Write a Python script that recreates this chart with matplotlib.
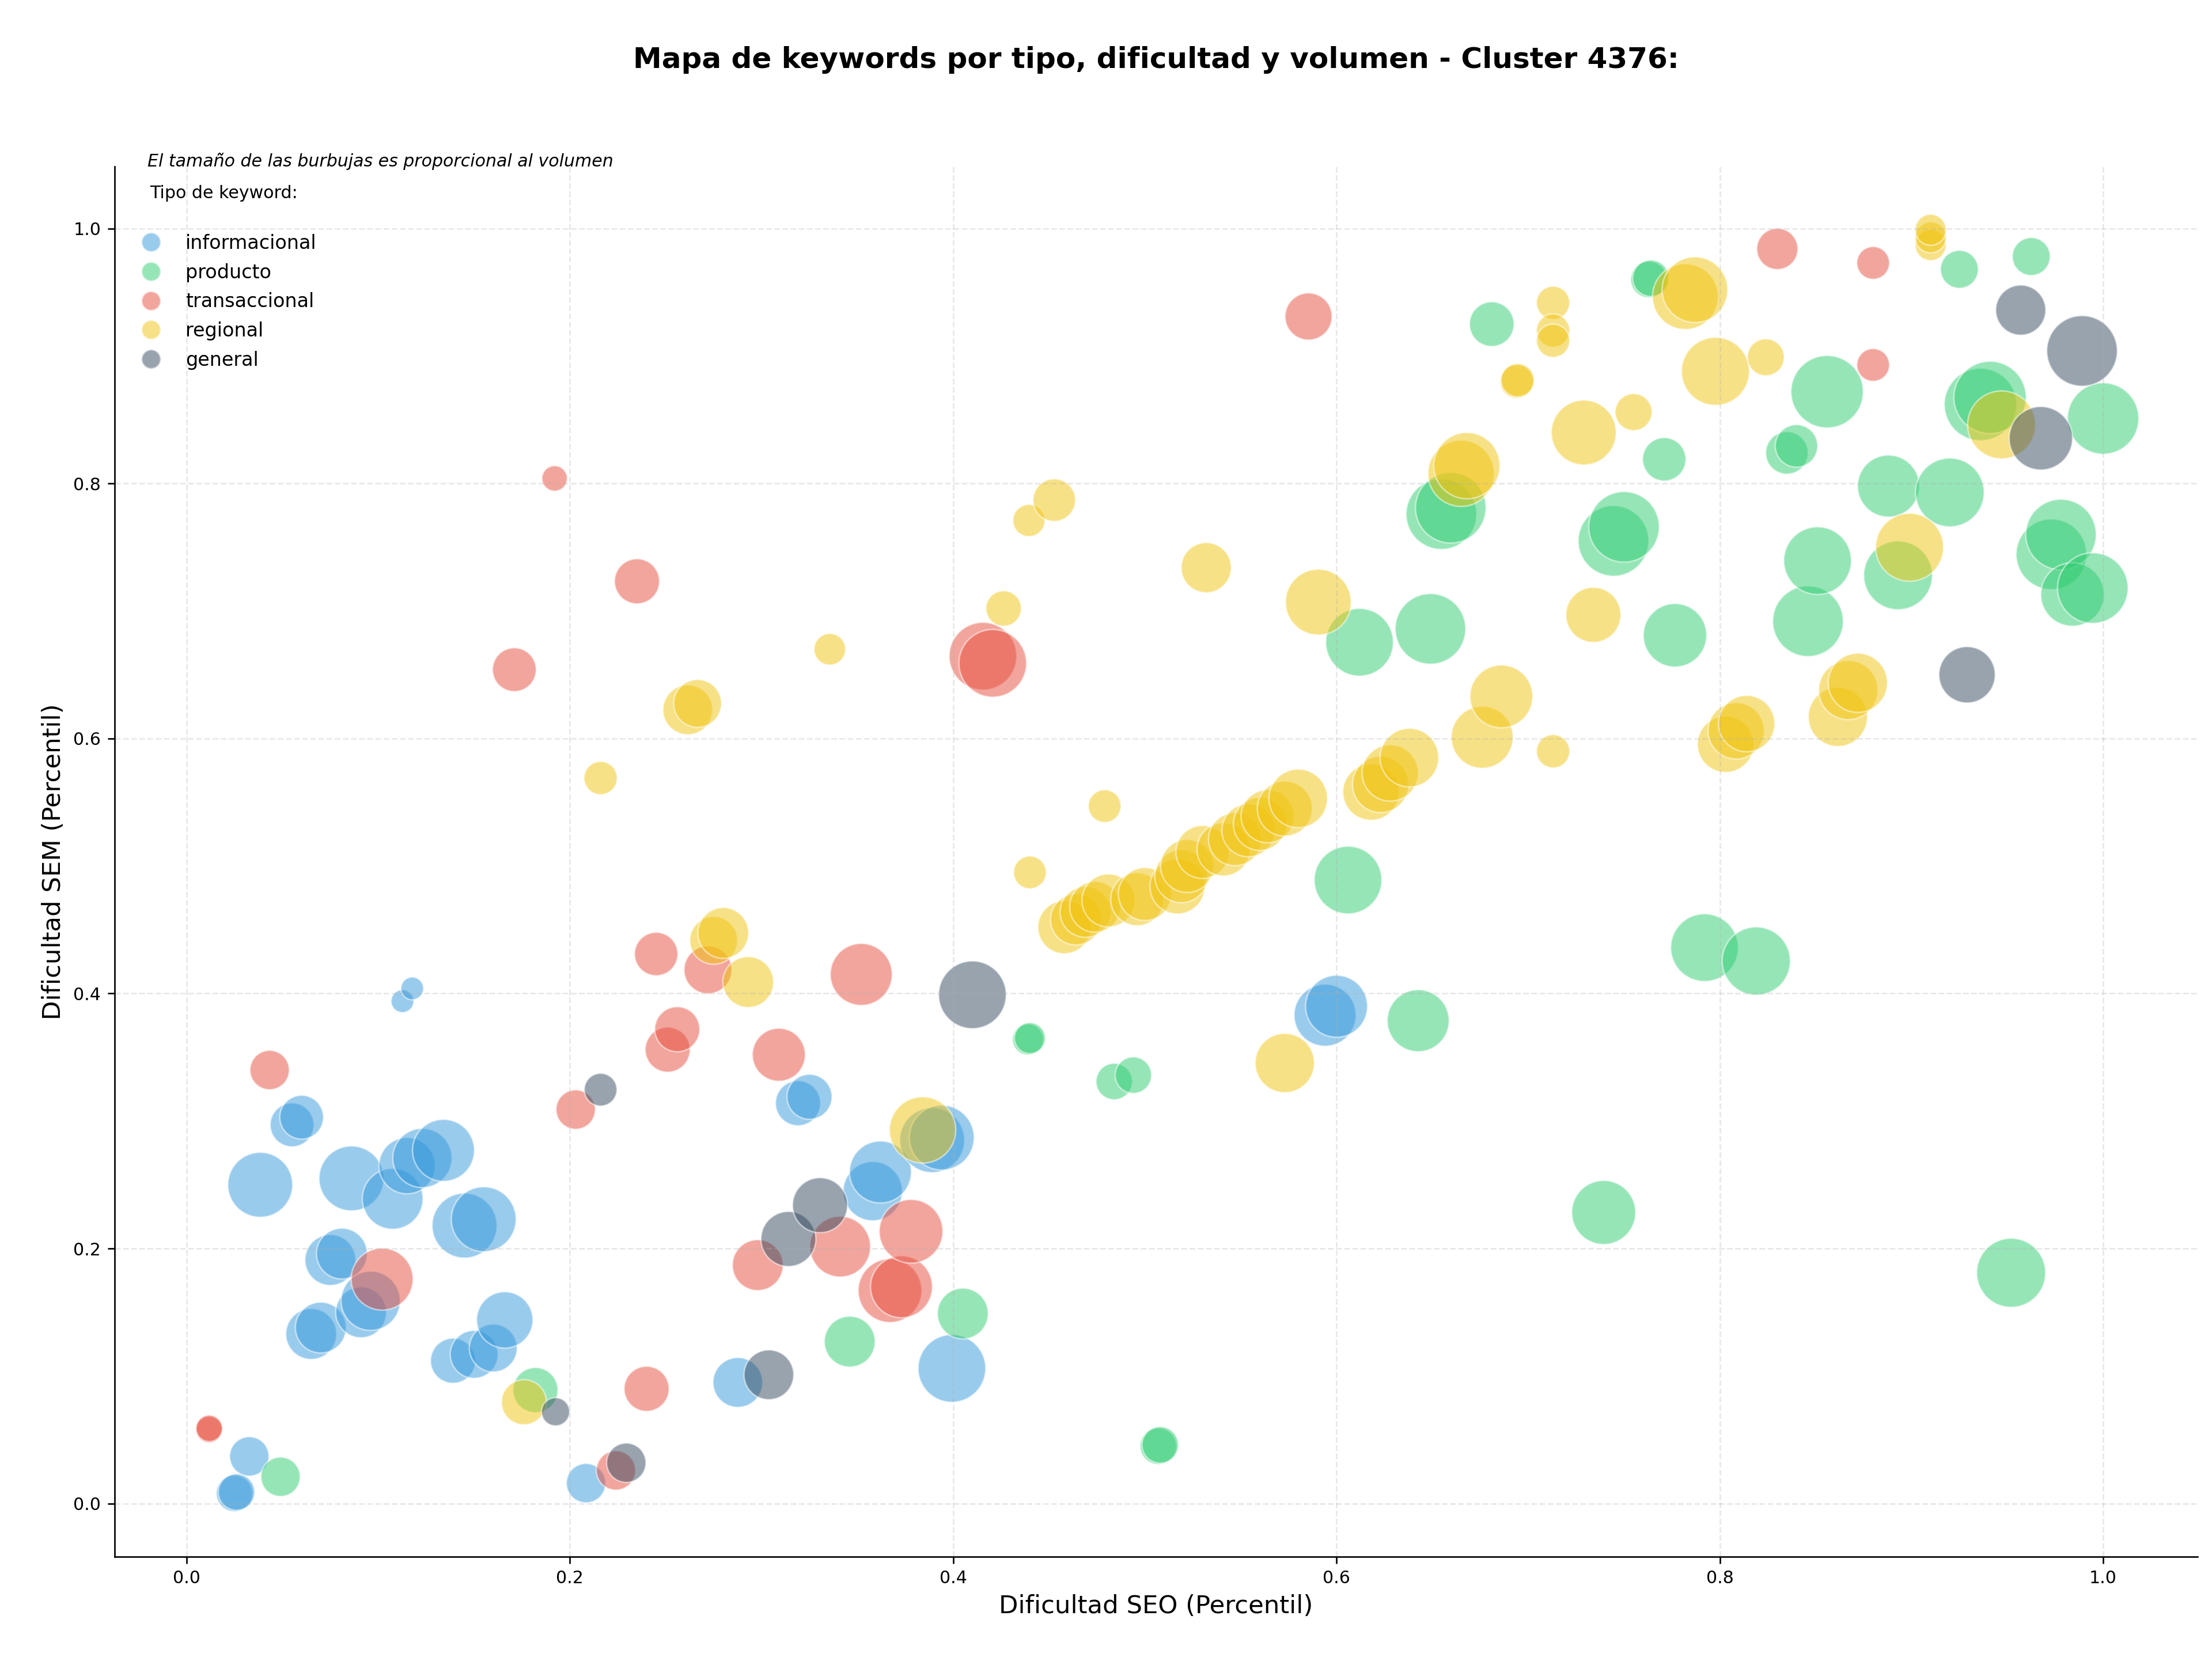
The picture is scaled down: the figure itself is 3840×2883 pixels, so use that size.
import numpy as np
import matplotlib.pyplot as plt
from matplotlib.lines import Line2D

# Dificultad SEO (x), dificultad SEM (y) y volumen relativo de cada keyword, por tipo
info_seo = [0.025, 0.026, 0.0327, 0.0384, 0.055, 0.060, 0.065, 0.070, 0.075, 0.081,
            0.086, 0.091, 0.096, 0.1075, 0.1126, 0.1177, 0.115, 0.123, 0.134, 0.139,
            0.150, 0.160, 0.145, 0.155, 0.166, 0.2084, 0.2876, 0.319, 0.325, 0.358,
            0.362, 0.389, 0.394, 0.3993, 0.594, 0.600]
info_sem = [0.008, 0.009, 0.037, 0.250, 0.297, 0.303, 0.133, 0.138, 0.191, 0.196,
            0.255, 0.150, 0.159, 0.239, 0.394, 0.404, 0.265, 0.271, 0.277, 0.112,
            0.117, 0.122, 0.218, 0.223, 0.144, 0.016, 0.095, 0.314, 0.319, 0.245,
            0.260, 0.285, 0.287, 0.106, 0.383, 0.390]
info_vol = [360, 360, 420, 1140, 520, 520, 700, 700, 700, 700,
            1140, 700, 950, 1000, 140, 140, 860, 950, 1040, 550,
            620, 620, 1140, 1140, 860, 420, 670, 550, 550, 950,
            1040, 1140, 1140, 1240, 1040, 1040]

prod_seo = [0.049, 0.182, 0.346, 0.405, 0.439, 0.440, 0.484, 0.494, 0.507, 0.508,
            0.606, 0.612, 0.6426, 0.649, 0.6547, 0.6596, 0.681, 0.7394, 0.7445, 0.750,
            0.763, 0.764, 0.771, 0.7766, 0.792, 0.819, 0.835, 0.840, 0.846, 0.851,
            0.856, 0.888, 0.893, 0.920, 0.925, 0.936, 0.941, 0.952, 0.9625, 0.973,
            0.978, 0.984, 0.9946, 1.0]
prod_sem = [0.021, 0.089, 0.127, 0.149, 0.364, 0.365, 0.331, 0.336, 0.045, 0.046,
            0.489, 0.6755, 0.3787, 0.686, 0.776, 0.781, 0.925, 0.2283, 0.755, 0.766,
            0.960, 0.961, 0.819, 0.681, 0.436, 0.4255, 0.824, 0.8295, 0.692, 0.7395,
            0.872, 0.798, 0.728, 0.793, 0.968, 0.862, 0.8675, 0.181, 0.978, 0.7445,
            0.760, 0.713, 0.718, 0.851]
prod_vol = [420, 550, 700, 700, 260, 260, 360, 360, 360, 360,
            1240, 1240, 1040, 1350, 1350, 1350, 540, 1110, 1350, 1350,
            360, 360, 510, 1090, 1240, 1260, 490, 490, 1350, 1240,
            1420, 1040, 1280, 1280, 390, 1420, 1420, 1290, 390, 1350,
            1350, 1090, 1350, 1380]

trans_seo = [0.0117, 0.0118, 0.0433, 0.102, 0.171, 0.192, 0.203, 0.224, 0.235, 0.240,
             0.245, 0.251, 0.256, 0.272, 0.298, 0.309, 0.341, 0.352, 0.367, 0.373,
             0.378, 0.4155, 0.4206, 0.5854, 0.830, 0.880, 0.880]
trans_sem = [0.058, 0.059, 0.340, 0.176, 0.654, 0.804, 0.309, 0.026, 0.7233, 0.090,
             0.431, 0.356, 0.372, 0.4186, 0.187, 0.352, 0.2015, 0.415, 0.167, 0.170,
             0.2135, 0.6646, 0.659, 0.931, 0.984, 0.973, 0.893]
trans_vol = [190, 190, 420, 1040, 520, 175, 420, 420, 550, 550,
             510, 550, 550, 620, 700, 760, 1000, 1040, 1100, 1040,
             1100, 1240, 1240, 600, 460, 290, 290]

reg_seo = [0.176, 0.216, 0.2615, 0.2666, 0.275, 0.280, 0.293, 0.3356, 0.384, 0.4263,
           0.4395, 0.4527, 0.440, 0.479,
           0.458, 0.464, 0.469, 0.474, 0.481, 0.496, 0.500, 0.517, 0.519, 0.522,
           0.530, 0.541, 0.547, 0.554, 0.560, 0.564, 0.573, 0.580,
           0.618, 0.623, 0.628, 0.638, 0.676, 0.686,
           0.532, 0.5905, 0.573, 0.665, 0.668, 0.694, 0.6945, 0.713, 0.713, 0.713,
           0.713, 0.729, 0.734, 0.755, 0.782, 0.787, 0.7977, 0.803, 0.8085, 0.814,
           0.824, 0.8616, 0.867, 0.872, 0.899, 0.910, 0.910, 0.910, 0.947]
reg_sem = [0.0795, 0.569, 0.6225, 0.6275, 0.4417, 0.4475, 0.409, 0.670, 0.293, 0.702,
           0.771, 0.787, 0.495, 0.547,
           0.452, 0.458, 0.464, 0.468, 0.473, 0.474, 0.478, 0.484, 0.492, 0.500,
           0.511, 0.513, 0.521, 0.528, 0.533, 0.539, 0.545, 0.553,
           0.558, 0.564, 0.573, 0.585, 0.601, 0.633,
           0.734, 0.707, 0.3455, 0.808, 0.814, 0.880, 0.881, 0.9417, 0.920, 0.912,
           0.590, 0.840, 0.697, 0.856, 0.9466, 0.952, 0.888, 0.5955, 0.606, 0.6117,
           0.899, 0.617, 0.638, 0.6437, 0.750, 0.987, 0.993, 0.999, 0.846]
reg_vol = [550, 300, 670, 620, 620, 700, 700, 270, 1190, 340,
           280, 490, 290, 290,
           760, 700, 700, 700, 760, 760, 760, 820, 760, 760,
           760, 760, 760, 760, 760, 760, 820, 930,
           860, 860, 860, 930, 1040, 1070,
           680, 1170, 950, 1190, 1190, 300, 300, 300, 300, 300,
           300, 1140, 820, 370, 1170, 1170, 1250, 860, 860, 860,
           370, 950, 950, 950, 1250, 260, 260, 260, 1250]

gen_seo = [0.1925, 0.216, 0.2294, 0.3038, 0.314, 0.3305, 0.410, 0.929, 0.957, 0.9675, 0.989]
gen_sem = [0.072, 0.3246, 0.032, 0.101, 0.2075, 0.234, 0.399, 0.650, 0.936, 0.8355, 0.904]
gen_vol = [215, 290, 420, 670, 820, 820, 1240, 860, 680, 1090, 1350]

tipos = ['informacional', 'producto', 'transaccional', 'regional', 'general']
colores = ['#3498db', '#2ecc71', '#e74c3c', '#f1c40f', '#34495e']
series = [(info_seo, info_sem, info_vol),
          (prod_seo, prod_sem, prod_vol),
          (trans_seo, trans_sem, trans_vol),
          (reg_seo, reg_sem, reg_vol),
          (gen_seo, gen_sem, gen_vol)]

fig = plt.figure(figsize=(16, 12.0125), dpi=240)
ax = fig.add_axes([0.0517, 0.0629, 0.9419, 0.8368])

for (xs, ys, vs), tipo, col in zip(series, tipos, colores):
    ax.scatter(xs, ys, s=np.array(vs), c=col, alpha=0.5,
               edgecolors='white', linewidths=0.8, label=tipo)

ax.grid(True, linestyle='--', alpha=0.3)
ax.spines['top'].set_visible(False)
ax.spines['right'].set_visible(False)
ax.set_xlabel('Dificultad SEO (Percentil)', fontsize=13)
ax.set_ylabel('Dificultad SEM (Percentil)', fontsize=13)
ax.tick_params(labelsize=9)

fig.text(0.5226, 0.964, 'Mapa de keywords por tipo, dificultad y volumen - Cluster 4376:',
         ha='center', va='center', fontsize=15, fontweight='bold')

ax.text(0.016, 1.004, 'El tamaño de las burbujas es proporcional al volumen',
        transform=ax.transAxes, fontsize=9, style='italic', va='center')
ax.text(0.017, 0.981, 'Tipo de keyword:', transform=ax.transAxes, fontsize=9, va='center')

handles = [Line2D([], [], marker='o', linestyle='', markersize=10,
                  markerfacecolor=c, markeredgecolor='white', alpha=0.5) for c in colores]
ax.legend(handles, tipos, loc='upper left', bbox_to_anchor=(0.0, 0.964),
          frameon=False, fontsize=10, labelspacing=0.53, handletextpad=0.8)

fig.savefig('out.png', dpi=240)
